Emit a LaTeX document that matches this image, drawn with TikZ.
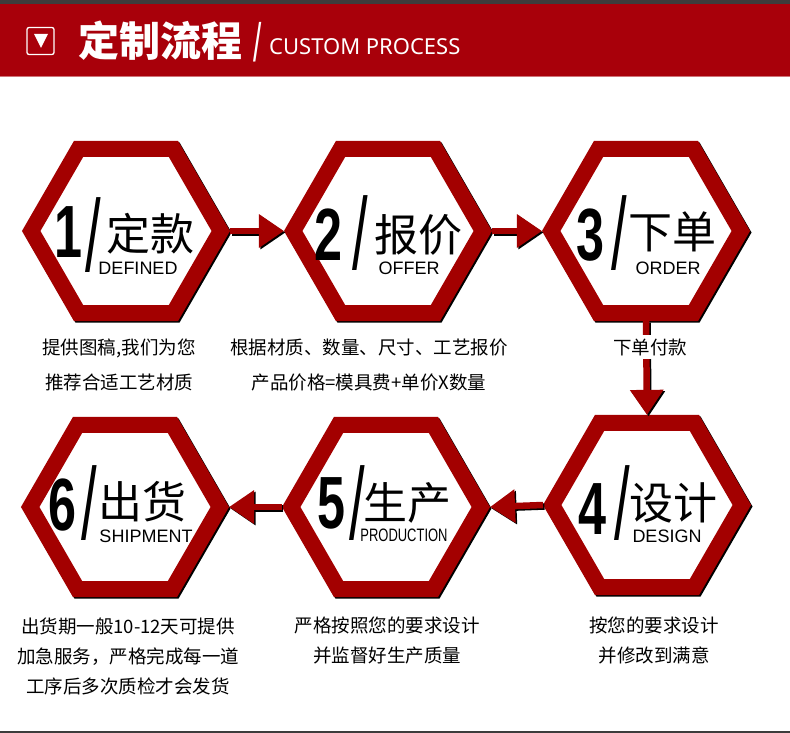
\documentclass[tikz,border=0pt]{standalone}
\usepackage{fontspec}
\setmainfont{Liberation Sans}
\newfontfamily\zhfont{Noto Sans CJK SC}
\newfontfamily\notosans{Noto Sans}
\newfontfamily\numfont{Liberation Sans}[FakeStretch=0.68]
\newfontfamily\slashfont{Liberation Sans}[FakeStretch=0.55]
\newfontfamily\condfont{Liberation Sans}[FakeStretch=0.72]
\usetikzlibrary{shapes.geometric,arrows.meta}

\definecolor{hexred}{RGB}{163,0,0}
\definecolor{bandred}{RGB}{168,0,10}
\definecolor{topgray}{RGB}{60,60,60}

\begin{document}
\begin{tikzpicture}[x=1pt, y=-1pt]
\tikzset{
  hexring/.style={regular polygon, regular polygon sides=6, minimum size=189.6pt, inner sep=0pt, draw=hexred, line width=16pt, fill=white},
  hexshadow/.style={hexring, draw=black},
  numtxt/.style={inner sep=0pt, font=\numfont\bfseries\fontsize{74}{74}\selectfont},
  slashtxt/.style={inner sep=0pt, font=\slashfont\fontsize{102}{102}\selectfont},
  zhtxt/.style={inner sep=0pt, font=\zhfont\fontsize{44}{44}\selectfont},
  entxt/.style={inner sep=0pt, font=\fontsize{18}{18}\selectfont},
  flowarrow/.style={draw=hexred, line width=6.5pt, -{Triangle[length=25pt, width=32pt]}},
  flowshadow/.style={flowarrow, draw=black},
  desc/.style={inner sep=0pt, align=center, font=\zhfont\fontsize{18.5}{35}\selectfont},
  desctwo/.style={desc, font=\zhfont\fontsize{18.5}{30}\selectfont}
}
\useasboundingbox (0,0) rectangle (790,733);
\fill[white] (0,0) rectangle (790,733);

% Header
\fill[topgray] (0,0) rectangle (790,4);
\fill[bandred] (0,4) rectangle (790,76);
\fill[bandred!55!white] (0,76) rectangle (790,77.5);
\node[draw=white, line width=1.3pt, rounded corners=2pt, minimum size=27pt, inner sep=0pt] (icon) at (40.5,41) {};
\fill[white] (34,34) -- (48,34) -- (41,48) -- cycle;
\node[anchor=west, inner sep=0pt, text=white, font=\zhfont\bfseries\fontsize{41}{41}\selectfont] (title) at (78,41) {定制流程};
\node[inner sep=0pt, text=white, font=\slashfont\fontsize{54}{54}\selectfont] (tslash) at (258,42) {/};
\node[anchor=base west, inner sep=0pt, text=white, font=\notosans\fontsize{22}{22}\selectfont] (tsub) at (269,55) {CUSTOM PROCESS};

% Row 1
\node[hexshadow] (s1) at (127.5,232.5) {};
\node[hexring] (h1) at (126,231) {};
\node[numtxt] (n1) at (68,232) {1};
\node[slashtxt] (k1) at (93,235) {/};
\node[zhtxt] (z1) at (150,234) {定款};
\node[entxt] (e1) at (138,268.5) {DEFINED};

\node[hexshadow] (s2) at (389.5,232.5) {};
\node[hexring] (h2) at (388,231) {};
\node[numtxt] (n2) at (328,234.5) {2};
\node[slashtxt] (k2) at (360,233) {/};
\node[zhtxt] (z2) at (418,235) {报价};
\node[entxt] (e2) at (409,268.5) {OFFER};

\node[hexshadow] (s3) at (647.5,232.5) {};
\node[hexring] (h3) at (646,231) {};
\node[numtxt] (n3) at (590,235) {3};
\node[slashtxt] (k3) at (619,233) {/};
\node[zhtxt] (z3) at (672,232) {下单};
\node[entxt] (e3) at (668,268.5) {ORDER};

% Row 2
\node[hexshadow] (s4) at (648.5,506.5) {};
\node[hexring] (h4) at (647,505) {};
\node[numtxt] (n4) at (592,509) {4};
\node[slashtxt] (k4) at (622,503) {/};
\node[zhtxt] (z4) at (673,503) {设计};
\node[entxt] (e4) at (667,536.5) {DESIGN};

\node[hexshadow] (s5) at (387.5,508.5) {};
\node[hexring] (h5) at (386,507) {};
\node[numtxt] (n5) at (331,503) {5};
\node[slashtxt] (k5) at (357,503) {/};
\node[zhtxt] (z5) at (407,503) {生产};
\node[entxt, font=\condfont\fontsize{18}{18}\selectfont] (e5) at (404,535.5) {PRODUCTION};

\node[hexshadow] (s6) at (126.5,508.5) {};
\node[hexring] (h6) at (125,507) {};
\node[numtxt] (n6) at (62,505.5) {6};
\node[slashtxt] (k6) at (89,503) {/};
\node[zhtxt] (z6) at (142,502) {出货};
\node[entxt] (e6) at (146,536) {SHIPMENT};

% Arrows
\draw[flowshadow] ([shift={(1.5,1.5)}]h1.east) -- ([shift={(1.5,1.5)}]h2.west);
\draw[flowarrow] (h1.east) -- (h2.west);
\draw[flowshadow] ([shift={(1.5,1.5)}]h2.east) -- ([shift={(1.5,1.5)}]h3.west);
\draw[flowarrow] (h2.east) -- (h3.west);
\draw[flowshadow] ([shift={(1.5,1.5)}]h3.south) -- ([shift={(1.5,1.5)}]h4.north);
\draw[flowarrow] (h3.south) -- (h4.north);
\draw[flowshadow] ([shift={(1.5,1.5)}]h4.west) -- ([shift={(1.5,1.5)}]h5.east);
\draw[flowarrow] (h4.west) -- (h5.east);
\draw[flowshadow] ([shift={(1.5,1.5)}]h5.west) -- ([shift={(1.5,1.5)}]h6.east);
\draw[flowarrow] (h5.west) -- (h6.east);

% Descriptions
\node[desc] (d1) at (119,365) {提供图稿,我们为您\\推荐合适工艺材质};
\node[desc] (d2) at (369,365) {根据材质、数量、尺寸、工艺报价\\产品价格=模具费+单价X数量};
\node[desc, fill=white, inner sep=3pt] (d3) at (650,347) {下单付款};
\node[desctwo] (d4) at (654,640) {按您的要求设计\\并修改到满意};
\node[desctwo] (d5) at (387,640) {严格按照您的要求设计\\并监督好生产质量};
\node[desctwo] (d6) at (128,656) {出货期一般10-12天可提供\\加急服务，严格完成每一道\\工序后多次质检才会发货};

\fill[topgray] (0,730.5) rectangle (790,733);
\end{tikzpicture}
\end{document}
